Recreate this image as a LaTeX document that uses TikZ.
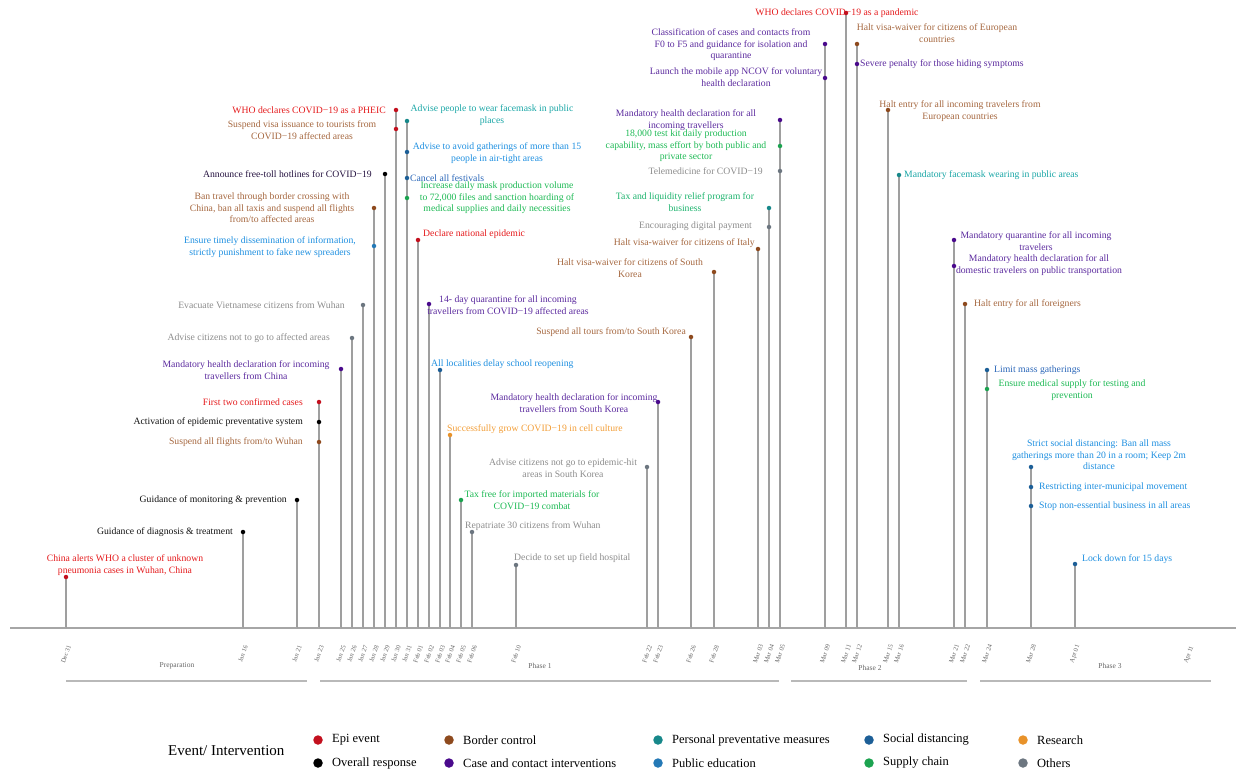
\documentclass[tikz,border=0pt]{standalone}
\usepackage{fontspec}
\setmainfont{Liberation Serif}
\usetikzlibrary{backgrounds}
\definecolor{tEpi}{HTML}{E41A1C}
\definecolor{tBor}{HTML}{A5673F}
\definecolor{tPer}{HTML}{1AA6A6}
\definecolor{tSoc}{HTML}{2A66B8}
\definecolor{tPub}{HTML}{1E8FE0}
\definecolor{tSup}{HTML}{1DB954}
\definecolor{tCas}{HTML}{5B2A9E}
\definecolor{tOvr}{HTML}{111111}
\definecolor{tOth}{HTML}{8C8C8C}
\definecolor{tRes}{HTML}{F29E38}
\definecolor{cEpi}{HTML}{C3101E}
\definecolor{cBor}{HTML}{8E4A1E}
\definecolor{cPer}{HTML}{17888A}
\definecolor{cSoc}{HTML}{1D5F97}
\definecolor{cPub}{HTML}{2479B6}
\definecolor{cSup}{HTML}{1CA350}
\definecolor{cCas}{HTML}{4A0A8C}
\definecolor{cOvr}{HTML}{000000}
\definecolor{cOth}{HTML}{6C7680}
\definecolor{cRes}{HTML}{E8922A}
\newcommand\evf{\fontsize{9.7}{11.5}\selectfont}
\newcommand\datef{\fontsize{6.5}{7.5}\selectfont}
\newcommand\phf{\fontsize{7.5}{9}\selectfont}
\newcommand\legf{\fontsize{12.5}{14}\selectfont}
\tikzset{
  ev/.style={font=\evf, align=center, inner sep=0pt},
  dot/.style={circle, inner sep=0pt, minimum size=4.5pt},
  stem/.style={draw=gray!75, line width=1.3pt},
  ticky/.style={draw=gray!75, line width=1pt},
  datelab/.style={font=\datef, text=gray!80!black, rotate=70, inner sep=0pt},
  phaselab/.style={font=\phf, text=gray!80!black, inner sep=0pt},
  phaseline/.style={draw=gray!55, line width=2.5pt},
  legdot/.style={circle, inner sep=0pt, minimum size=9.5pt},
  legtxt/.style={font=\legf, anchor=west, inner sep=0pt}
}
\begin{document}
\begin{tikzpicture}[x=1pt,y=-1pt]
\useasboundingbox (0,0) rectangle (1236,776);
% axis
\coordinate (axL) at (10,628);
\coordinate (axR) at (1236,628);
\draw[draw=gray!70, line width=1.6pt] (axL) -- (axR);
\foreach \n/\x/\d in {01/66/Dec 31,02/243/Jan 16,03/297/Jan 21,04/319/Jan 23,05/341/Jan 25,06/352/Jan 26,07/363/Jan 27,08/374/Jan 28,09/385/Jan 29,10/396/Jan 30,11/407/Jan 31,12/418/Feb 01,13/429/Feb 02,14/440/Feb 03,15/450/Feb 04,16/461/Feb 05,17/472/Feb 06,18/516/Feb 10,19/647/Feb 22,20/658/Feb 23,21/691/Feb 26,22/714/Feb 28,23/758/Mar 03,24/769/Mar 04,25/780/Mar 05,26/825/Mar 09,27/846/Mar 11,28/857/Mar 12,29/888/Mar 15,30/899/Mar 16,31/954/Mar 21,32/965/Mar 22,33/987/Mar 24,34/1031/Mar 28,35/1075/Apr 01}{
  \coordinate (t\n) at (\x,628);
  \draw[ticky] (t\n) -- ++(0,-5);
  \node[datelab] (dl\n) at (\x,654) {\d};
}
\node[datelab] (dl36) at (1189,655) {Apr 11};
% phases
\node[phaselab] (ph0) at (177,666) {Preparation};
\node[phaselab] (ph1) at (540,666) {Phase 1};
\node[phaselab] (ph2) at (870,668) {Phase 2};
\node[phaselab] (ph3) at (1110,666) {Phase 3};
\coordinate (p0a) at (66,681); \coordinate (p0b) at (307,681);
\coordinate (p1a) at (320,681); \coordinate (p1b) at (779,681);
\coordinate (p2a) at (791,681); \coordinate (p2b) at (967,681);
\coordinate (p3a) at (980,681); \coordinate (p3b) at (1211,681);
\draw[phaseline] (p0a) -- (p0b);
\draw[phaseline] (p1a) -- (p1b);
\draw[phaseline] (p2a) -- (p2b);
\draw[phaseline] (p3a) -- (p3b);

% ---------- events ----------
% Dec 31
\node[dot,fill=cEpi] (e01a) at (66,577) {};
\node[ev,text=tEpi] (l01a) at (125,565) {China alerts WHO a cluster of unknown\\pneumonia cases in Wuhan, China};
% Jan 16
\node[dot,fill=cOvr] (e02a) at (243,532) {};
\node[ev,text=tOvr,anchor=east] (l02a) at (233,532) {Guidance of diagnosis \& treatment};
% Jan 21
\node[dot,fill=cOvr] (e03a) at (297,500) {};
\node[ev,text=tOvr,anchor=east] (l03a) at (287,500) {Guidance of monitoring \& prevention};
% Jan 23
\node[dot,fill=cEpi] (e04a) at (319,402) {};
\node[dot,fill=cOvr] (e04b) at (319,422) {};
\node[dot,fill=cBor] (e04c) at (319,442) {};
\node[ev,text=tEpi,anchor=east] (l04a) at (303,402) {First two confirmed cases};
\node[ev,text=tOvr,anchor=east] (l04b) at (303,422) {Activation of epidemic preventative system};
\node[ev,text=tBor,anchor=east] (l04c) at (303,442) {Suspend all flights from/to Wuhan};
% Jan 25
\node[dot,fill=cCas] (e05a) at (341,369) {};
\node[ev,text=tCas] (l05a) at (246,370) {Mandatory health declaration for incoming\\travellers from China};
% Jan 26
\node[dot,fill=cOth] (e06a) at (352,338) {};
\node[ev,text=tOth,anchor=east] (l06a) at (330,338) {Advise citizens not to go to affected areas};
% Jan 27
\node[dot,fill=cOth] (e07a) at (363,305) {};
\node[ev,text=tOth,anchor=east] (l07a) at (345,305) {Evacuate Vietnamese citizens from Wuhan};
% Jan 28
\node[dot,fill=cBor] (e08a) at (374,208) {};
\node[dot,fill=cPub] (e08b) at (374,246) {};
\node[ev,text=tBor] (l08a) at (272,208) {Ban travel through border crossing with\\China, ban all taxis and suspend all flights\\from/to affected areas};
\node[ev,text=tPub] (l08b) at (270,247) {Ensure timely dissemination of information,\\strictly punishment to fake new spreaders};
% Jan 29
\node[dot,fill=cOvr] (e09a) at (385,174) {};
\node[ev,text=tCas!40!black,anchor=east] (l09a) at (372,174) {Announce free-toll hotlines for COVID−19};
% Jan 30
\node[dot,fill=cEpi] (e10a) at (396,110) {};
\node[dot,fill=cEpi] (e10b) at (396,129) {};
\node[ev,text=tEpi,anchor=east] (l10a) at (386,110) {WHO declares COVID−19 as a PHEIC};
\node[ev,text=tBor] (l10b) at (302,130) {Suspend visa issuance to tourists from\\COVID−19 affected areas};
% Jan 31
\node[dot,fill=cPer] (e11a) at (407,121) {};
\node[dot,fill=cSoc] (e11b) at (407,152) {};
\node[dot,fill=cSoc] (e11c) at (407,178) {};
\node[dot,fill=cSup] (e11d) at (407,198) {};
\node[ev,text=tPer] (l11a) at (492,115) {Advise people to wear facemask in public\\places};
\node[ev,text=tPub] (l11b) at (497,153) {Advise to avoid gatherings of more than 15\\people in air-tight areas};
\node[ev,text=tSoc,anchor=west] (l11c) at (410,178) {Cancel all festivals};
\node[ev,text=tSup] (l11d) at (497,198) {Increase daily mask production volume\\to 72,000 files and sanction hoarding of\\medical supplies and daily necessities};
% Feb 01
\node[dot,fill=cEpi] (e12a) at (418,240) {};
\node[ev,text=tEpi,anchor=west] (l12a) at (423,234) {Declare national epidemic};
% Feb 02
\node[dot,fill=cCas] (e13a) at (429,304) {};
\node[ev,text=tCas] (l13a) at (508,305) {14- day quarantine for all incoming\\travellers from COVID−19 affected areas};
% Feb 03
\node[dot,fill=cSoc] (e14a) at (440,370) {};
\node[ev,text=tPub,anchor=west] (l14a) at (431,364) {All localities delay school reopening};
% Feb 04
\node[dot,fill=cRes] (e15a) at (450,435) {};
\node[ev,text=tRes,anchor=west] (l15a) at (447,429) {Successfully grow COVID−19 in cell culture};
% Feb 05
\node[dot,fill=cSup] (e16a) at (461,500) {};
\node[ev,text=tSup] (l16a) at (532,500) {Tax free for imported materials for\\COVID−19 combat};
% Feb 06
\node[dot,fill=cOth] (e17a) at (472,532) {};
\node[ev,text=tOth,anchor=west] (l17a) at (465,526) {Repatriate 30 citizens from Wuhan};
% Feb 10
\node[dot,fill=cOth] (e18a) at (516,565) {};
\node[ev,text=tOth,anchor=west] (l18a) at (514,558) {Decide to set up field hospital};
% Feb 22
\node[dot,fill=cOth] (e19a) at (647,467) {};
\node[ev,text=tOth] (l19a) at (563,468) {Advise citizens not go to epidemic-hit\\areas in South Korea};
% Feb 23
\node[dot,fill=cCas] (e20a) at (658,402) {};
\node[ev,text=tCas] (l20a) at (574,403) {Mandatory health declaration for incoming\\travellers from South Korea};
% Feb 26
\node[dot,fill=cBor] (e21a) at (691,337) {};
\node[ev,text=tBor,anchor=east] (l21a) at (686,332) {Suspend all tours from/to South Korea};
% Feb 28
\node[dot,fill=cBor] (e22a) at (714,272) {};
\node[ev,text=tBor] (l22a) at (630,268) {Halt visa-waiver for citizens of South\\Korea};
% Mar 03
\node[dot,fill=cBor] (e23a) at (758,249) {};
\node[ev,text=tBor,anchor=east] (l23a) at (755,243) {Halt visa-waiver for citizens of Italy};
% Mar 04
\node[dot,fill=cPer] (e24a) at (769,208) {};
\node[dot,fill=cOth] (e24b) at (769,227) {};
\node[ev,text=tSup!70!tPer] (l24a) at (685,202) {Tax and liquidity relief program for\\business};
\node[ev,text=tOth,anchor=east] (l24b) at (752,226) {Encouraging digital payment};
% Mar 05
\node[dot,fill=cCas] (e25a) at (780,120) {};
\node[dot,fill=cSup] (e25b) at (780,146) {};
\node[dot,fill=cOth] (e25c) at (780,171) {};
\node[ev,text=tCas] (l25a) at (686,120) {Mandatory health declaration for all\\incoming travellers};
\node[ev,text=tSup] (l25b) at (686,146) {18,000 test kit daily production\\capability, mass effort by both public and\\private sector};
\node[ev,text=tOth,anchor=east] (l25c) at (763,171) {Telemedicine for COVID−19};
% Mar 09
\node[dot,fill=cCas] (e26a) at (825,44) {};
\node[dot,fill=cCas] (e26b) at (825,78) {};
\node[ev,text=tCas] (l26a) at (731,45) {Classification of cases and contacts from\\F0 to F5 and guidance for isolation and\\quarantine};
\node[ev,text=tCas] (l26b) at (736,77) {Launch the mobile app NCOV for voluntary\\health declaration};
% Mar 11
\node[ev,text=tEpi] (l27a) at (837,13) {WHO declares COVID−19 as a pandemic};
\node[dot,fill=cEpi] (e27a) at (846,13) {};
% Mar 12
\node[dot,fill=cBor] (e28a) at (857,44) {};
\node[dot,fill=cCas] (e28b) at (857,64) {};
\node[ev,text=tBor] (l28a) at (937,33) {Halt visa-waiver for citizens of European\\countries};
\node[ev,text=tCas,anchor=west] (l28b) at (860,64) {Severe penalty for those hiding symptoms};
% Mar 15
\node[dot,fill=cBor] (e29a) at (888,110) {};
\node[ev,text=tBor] (l29a) at (960,111) {Halt entry for all incoming travelers from\\European countries};
% Mar 16
\node[dot,fill=cPer] (e30a) at (899,175) {};
\node[ev,text=tPer,anchor=west] (l30a) at (904,175) {Mandatory facemask wearing in public areas};
% Mar 21
\node[dot,fill=cCas] (e31a) at (954,240) {};
\node[dot,fill=cCas] (e31b) at (954,266) {};
\node[ev,text=tCas] (l31a) at (1036,241) {Mandatory quarantine for all incoming\\travelers};
\node[ev,text=tCas] (l31b) at (1039,265) {Mandatory health declaration for all\\domestic travelers on public transportation};
% Mar 22
\node[dot,fill=cBor] (e32a) at (965,304) {};
\node[ev,text=tBor,anchor=west] (l32a) at (974,304) {Halt entry for all foreigners};
% Mar 24
\node[dot,fill=cSoc] (e33a) at (987,370) {};
\node[dot,fill=cSup] (e33b) at (987,389) {};
\node[ev,text=tSoc,anchor=west] (l33a) at (994,370) {Limit mass gatherings};
\node[ev,text=tSup] (l33b) at (1072,390) {Ensure medical supply for testing and\\prevention};
% Mar 28
\node[dot,fill=cSoc] (e34a) at (1031,467) {};
\node[dot,fill=cSoc] (e34b) at (1031,487) {};
\node[dot,fill=cSoc] (e34c) at (1031,506) {};
\node[ev,text=tPub] (l34a) at (1099,455) {Strict social distancing: Ban all mass\\gatherings more than 20 in a room; Keep 2m\\distance};
\node[ev,text=tPub,anchor=west] (l34b) at (1039,487) {Restricting inter-municipal movement};
\node[ev,text=tPub,anchor=west] (l34c) at (1039,506) {Stop non-essential business in all areas};
% Apr 01
\node[dot,fill=cSoc] (e35a) at (1075,564) {};
\node[ev,text=tPub,anchor=west] (l35a) at (1082,559) {Lock down for 15 days};

% stems
\begin{pgfonlayer}{background}
\foreach \s/\t in {e01a/01,e02a/02,e03a/03,e04a/04,e05a/05,e06a/06,e07a/07,e08a/08,e09a/09,e10a/10,e11a/11,e12a/12,e13a/13,e14a/14,e15a/15,e16a/16,e17a/17,e18a/18,e19a/19,e20a/20,e21a/21,e22a/22,e23a/23,e24a/24,e25a/25,e26a/26,e27a/27,e28a/28,e29a/29,e30a/30,e31a/31,e32a/32,e33a/33,e34a/34,e35a/35}{
  \draw[stem] (\s.center) -- (t\t);
}
\end{pgfonlayer}

% legend
\node[font=\fontsize{15}{17}\selectfont, anchor=west, inner sep=0pt] (legT) at (168,751) {Event/ Intervention};
\node[legdot,fill=cEpi] (g1) at (318,740) {};
\node[legtxt] (g1t) at (332,740) {Epi event};
\node[legdot,fill=cOvr] (g2) at (318,763) {};
\node[legtxt] (g2t) at (332,763) {Overall response};
\node[legdot,fill=cBor] (g3) at (449,740) {};
\node[legtxt] (g3t) at (463,740) {Border control};
\node[legdot,fill=cCas] (g4) at (449,763) {};
\node[legtxt] (g4t) at (463,763) {Case and contact interventions};
\node[legdot,fill=cPer] (g5) at (658,740) {};
\node[legtxt] (g5t) at (672,740) {Personal preventative measures};
\node[legdot,fill=cPub] (g6) at (658,763) {};
\node[legtxt] (g6t) at (672,763) {Public education};
\node[legdot,fill=cSoc] (g7) at (869,740) {};
\node[legtxt] (g7t) at (883,740) {Social distancing};
\node[legdot,fill=cSup] (g8) at (869,763) {};
\node[legtxt] (g8t) at (883,763) {Supply chain};
\node[legdot,fill=cRes] (g9) at (1023,740) {};
\node[legtxt] (g9t) at (1037,740) {Research};
\node[legdot,fill=cOth] (g10) at (1023,763) {};
\node[legtxt] (g10t) at (1037,763) {Others};
\end{tikzpicture}
\end{document}
